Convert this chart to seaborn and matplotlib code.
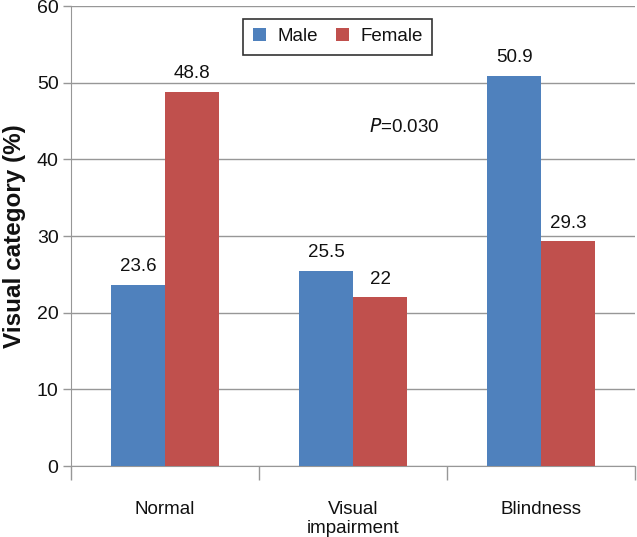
import numpy as np
import pandas as pd
import matplotlib
matplotlib.use("Agg")
import matplotlib.pyplot as plt
import seaborn as sns

categories = ["Normal", "Visual\nimpairment", "Blindness"]
male = [23.6, 25.5, 50.9]
female = [48.8, 22, 29.3]
male_labels = ["23.6", "25.5", "50.9"]
female_labels = ["48.8", "22", "29.3"]

df = pd.DataFrame({
    "category": categories * 2,
    "sex": ["Male"] * 3 + ["Female"] * 3,
    "value": male + female,
})

sns.set_style("white")
plt.rcParams['font.family'] = ['Liberation Sans', 'DejaVu Sans']
plt.rcParams['text.color'] = '#111111'

fig = plt.figure(figsize=(6.37, 5.37), dpi=100)
ax = fig.add_axes([0.1115, 0.1322, 0.8855, 0.8566])

sns.barplot(data=df, x="category", y="value", hue="sex",
            palette=["#4F81BD", "#C0504D"], width=0.574, gap=0,
            saturation=1, linewidth=0, edgecolor="none", ax=ax, zorder=3)

for cont, labs in zip(ax.containers, [male_labels, female_labels]):
    ax.bar_label(cont, labels=labs, padding=7, fontsize=13.5, color="#111111")

ax.set_ylim(0, 60)
ax.set_xlim(-0.5, 2.5)
ax.set_yticks(range(0, 70, 10))
ax.yaxis.grid(True, color="#979797", lw=1)
ax.set_axisbelow(True)

sns.despine(ax=ax, top=True, right=True)
ax.spines["left"].set_color("#979797")
ax.spines["bottom"].set_color("#979797")

ax.tick_params(axis="y", length=6, width=1, color="#979797", labelsize=14,
               labelcolor="#111111", pad=3, left=True)
ax.set_xticks([0, 1, 2])
ax.set_xticklabels(categories, fontsize=13.5, color="#111111")
ax.tick_params(axis="x", length=0, pad=25)
# category separators
ax.set_xticks([-0.5, 0.5, 1.5, 2.5], minor=True)
ax.tick_params(axis="x", which="minor", length=10, width=1, color="#979797", bottom=True)

ax.set_xlabel("")
ax.set_ylabel("Visual category (%)", fontsize=17.5, fontweight="bold", labelpad=8,
              color="#111111")

ax.text(1.27, 44.2, r"$\it{P}$=0.030", ha="center", va="center", fontsize=13.5)

leg = ax.legend(loc="center", bbox_to_anchor=(0.473, 0.933), ncol=2, fontsize=13.5,
                frameon=True, fancybox=False, edgecolor="black", handlelength=0.7,
                handleheight=0.7, columnspacing=1.0, handletextpad=0.6,
                borderpad=0.5)
leg.get_frame().set_linewidth(1.2)

fig.savefig("out.png", dpi=100)
